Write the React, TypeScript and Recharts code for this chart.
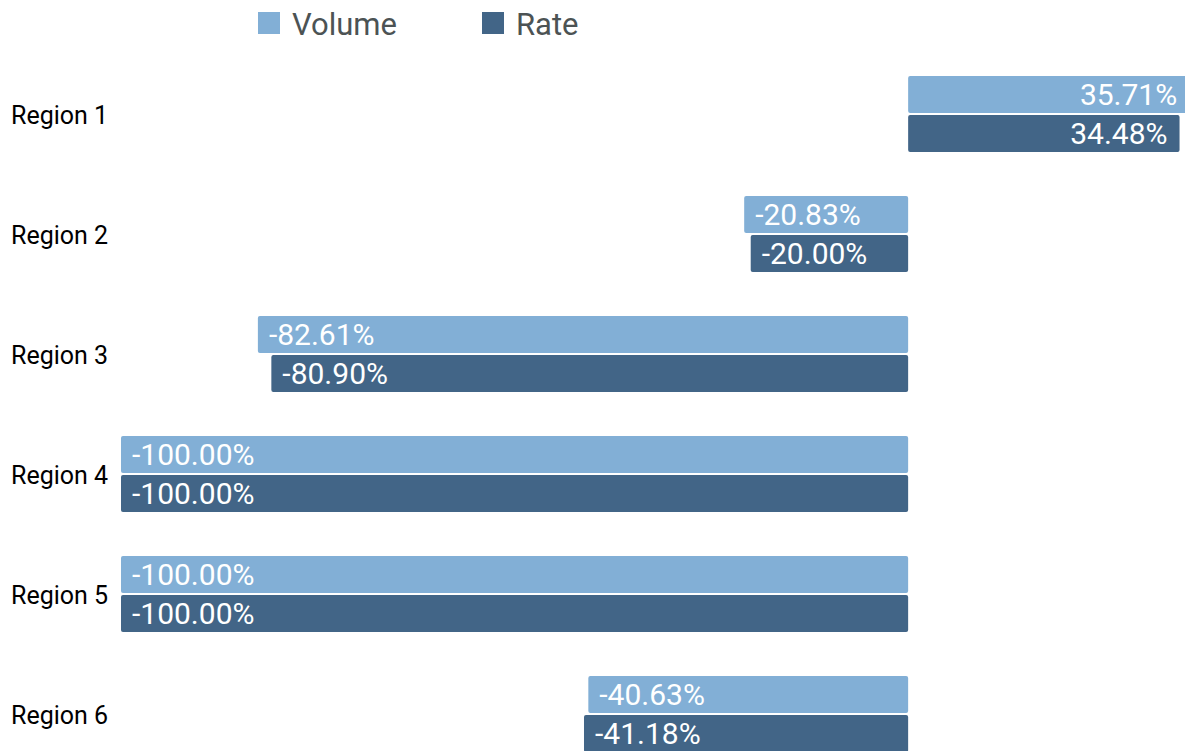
import React from "react"
import { BarChart, Bar, XAxis, YAxis, Legend, LabelList } from "recharts"

const regions = ["Region 1", "Region 2", "Region 3", "Region 4", "Region 5", "Region 6"]
const volume = [35.71, -20.83, -82.61, -100, -100, -40.63]
const rate = [34.48, -20.0, -80.9, -100, -100, -41.18]

const COLORS = { volume: "#82afd6", rate: "#426587" }
const FONT = "Roboto, 'Noto Sans', sans-serif"

const data = regions.map((region, i) => ({
  region,
  volume: volume[i],
  rate: rate[i],
}))

const RegionTick = ({ y, payload }: any) => (
  <text x={11} y={y + 1} textAnchor="start" dominantBaseline="central" fontSize={25} fill="#000" fontFamily={FONT}>
    {payload.value}
  </text>
)

const BarLabel = ({ x, y, width, height, value }: any) => {
  const left = Math.min(x, x + width)
  const right = Math.max(x, x + width)
  const positive = value >= 0
  return (
    <text
      x={positive ? right - 12 : left + 11}
      y={y + height / 2}
      textAnchor={positive ? "end" : "start"}
      dominantBaseline="central"
      fontSize={30}
      fill="#fff"
      fontFamily={FONT}
    >
      {value.toFixed(2)}%
    </text>
  )
}

// legend squares and texts placed to line up with the plot
const legendItems = [
  { name: "Volume", color: COLORS.volume, square: 258, text: 292 },
  { name: "Rate", color: COLORS.rate, square: 482, text: 516 },
]

const LegendContent = () => (
  <div style={{ height: 54, width: 700, position: "relative", fontFamily: FONT, fontSize: 31, color: "#4c5354" }}>
    {legendItems.map((item) => (
      <React.Fragment key={item.name}>
        <span style={{ position: "absolute", left: item.square, top: 12, width: 22, height: 22, background: item.color }} />
        <span style={{ position: "absolute", left: item.text, top: 6, whiteSpace: "nowrap" }}>{item.name}</span>
      </React.Fragment>
    ))}
  </div>
)

export default function App() {
  // pinned to the page corner so chart pixels line up with the page
  return (
    <div style={{ position: "absolute", top: 0, left: 0, width: 1185, height: 751, overflow: "hidden" }}>
      <BarChart
        width={1223}
        height={774}
        layout="vertical"
        data={data}
        margin={{ top: 0, right: 0, left: 0, bottom: 0 }}
        barSize={37}
        barGap={2}
      >
        <XAxis type="number" domain={[-100, 40]} hide />
        <YAxis
          dataKey="region"
          type="category"
          width={121}
          axisLine={false}
          tickLine={false}
          tick={<RegionTick />}
        />
        <Legend
          verticalAlign="top"
          align="left"
          content={<LegendContent />}
          wrapperStyle={{ top: 0, left: 0, width: 700, height: 54 }}
        />
        <Bar dataKey="volume" name="Volume" fill={COLORS.volume} radius={2} isAnimationActive={false}>
          <LabelList dataKey="volume" content={<BarLabel />} />
        </Bar>
        <Bar dataKey="rate" name="Rate" fill={COLORS.rate} radius={2} isAnimationActive={false}>
          <LabelList dataKey="rate" content={<BarLabel />} />
        </Bar>
      </BarChart>
    </div>
  )
}
